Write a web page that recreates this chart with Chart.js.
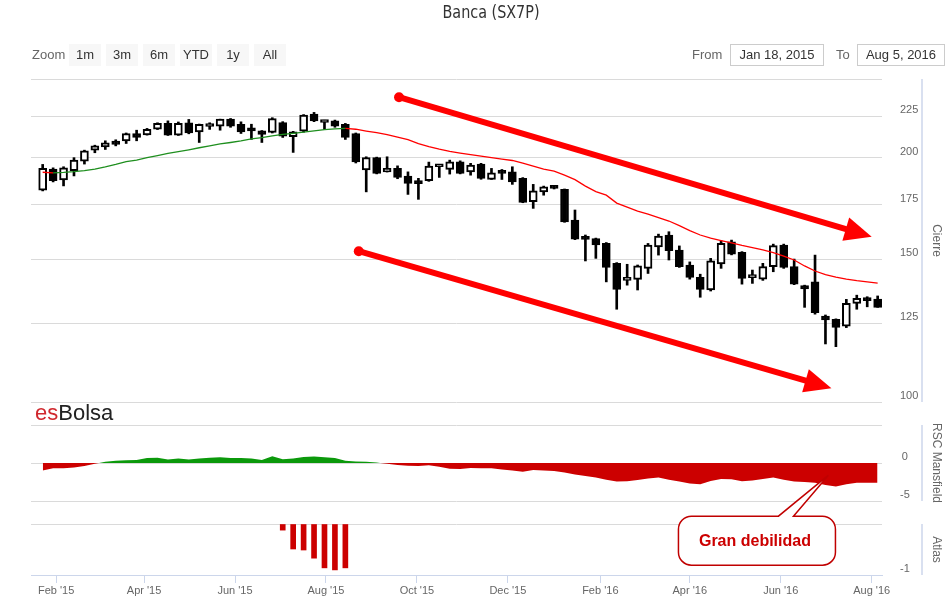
<!DOCTYPE html>
<html>
<head>
<meta charset="utf-8">
<title>Banca (SX7P)</title>
<script src="https://cdn.jsdelivr.net/npm/chart.js@4.4.1/dist/chart.umd.min.js"></script>
<style>
    body { margin: 0; background: #fff; font-family: Arial, "Liberation Sans", sans-serif; }
    #wrap { position: relative; width: 952px; height: 609px; overflow: hidden; }
    #chart-box { position: absolute; left: 0; top: 0; width: 952px; height: 609px; }
    .title { position: absolute; top: 2px; left: 491px; transform: translateX(-50%) scaleX(0.94); white-space: nowrap;
             font-family: "Liberation Sans Narrow", "Arial Narrow", "DejaVu Sans Condensed", Arial, sans-serif;
             font-size: 17px; color: #333; }
    .zoom-label, .range-label { position: absolute; top: 44px; height: 22px; line-height: 22px; font-size: 13px; color: #666; }
    .btn { position: absolute; top: 44px; width: 32px; height: 22px; line-height: 22px; background: #f7f7f7;
           color: #333; font-size: 13px; text-align: center; }
    .range-input { position: absolute; top: 44px; height: 22px; line-height: 20px; box-sizing: border-box;
                   border: 1px solid #ccc; font-size: 13px; color: #333; text-align: center; }
    .logo { position: absolute; left: 35px; top: 402px; font-size: 22px; line-height: 22px; color: #222; }
    .logo span { color: #d0282e; }
</style>
</head>
<body>
<div id="wrap">
    <div id="chart-box"><canvas id="bancaChart"></canvas></div>
    <div class="title">Banca (SX7P)</div>
    <div class="zoom-label" style="left:32px">Zoom</div>
    <div class="btn" style="left:69px">1m</div>
    <div class="btn" style="left:106px">3m</div>
    <div class="btn" style="left:143px">6m</div>
    <div class="btn" style="left:180px">YTD</div>
    <div class="btn" style="left:217px">1y</div>
    <div class="btn" style="left:254px">All</div>
    <div class="range-label" style="left:692px">From</div>
    <div class="range-input" style="left:730px;width:94px">Jan 18, 2015</div>
    <div class="range-label" style="left:836px">To</div>
    <div class="range-input" style="left:857px;width:88px">Aug 5, 2016</div>
    <div class="logo"><span>es</span>Bolsa</div>
</div>
<script>
// weekly candles, first one is the week of Jan 23 2015
const firstWeek = '2015-01-23';
const opens = [182.4, 193.6, 187.7, 192.7, 198.0, 204.3, 206.2, 209.6, 209.8, 214.2,
    213.4, 216.8, 220.4, 213.2, 220.8, 215.2, 218.5, 218.7, 223.1, 219.9,
    217.3, 215.8, 214.8, 221.0, 212.2, 215.6, 226.3, 221.0, 222.0, 219.9,
    214.2, 193.1, 200.0, 192.1, 194.0, 189.8, 186.2, 187.3, 194.9, 193.4,
    197.6, 192.1, 196.4, 188.0, 192.7, 192.1, 188.6, 176.5, 181.5, 184.6,
    182.8, 167.5, 159.5, 159.0, 156.8, 148.2, 141.2, 141.6, 146.1, 155.3,
    160.6, 153.9, 147.5, 142.4, 137.4, 147.9, 157.5, 152.9, 142.3, 141.7,
    146.8, 156.1, 146.8, 139.1, 140.6, 127.6, 126.4, 124.0, 132.3, 134.2, 133.9];
const highs = [196.2, 194.3, 194.9, 200.0, 204.3, 207.2, 209.8, 210.4, 214.5, 216.2,
    217.3, 220.8, 222.0, 221.3, 222.9, 220.0, 220.8, 223.1, 223.5, 221.4,
    219.9, 216.0, 224.0, 221.5, 215.5, 226.0, 227.4, 222.4, 222.5, 220.4,
    214.5, 200.5, 200.3, 200.5, 195.4, 192.1, 188.6, 197.5, 195.8, 198.6,
    198.2, 196.8, 196.8, 194.0, 193.4, 194.9, 189.0, 185.4, 184.5, 184.7,
    183.0, 172.4, 160.6, 159.2, 157.2, 148.5, 147.8, 147.5, 156.8, 161.0,
    162.1, 155.7, 148.8, 143.7, 150.3, 158.0, 158.3, 153.2, 145.4, 148.2,
    156.5, 156.5, 150.0, 139.3, 151.7, 128.0, 126.6, 133.8, 135.4, 134.8, 135.1];
const lows = [182.0, 186.7, 184.6, 189.9, 196.4, 202.8, 204.7, 206.8, 208.2, 209.8,
    213.2, 216.6, 213.0, 213.0, 214.0, 208.8, 216.7, 216.2, 218.0, 214.2,
    210.6, 208.8, 214.5, 211.8, 203.0, 215.0, 221.5, 216.7, 218.0, 210.6,
    197.0, 181.5, 191.0, 192.0, 188.4, 180.2, 177.7, 187.0, 189.1, 190.9,
    191.0, 190.3, 188.1, 188.0, 188.0, 185.4, 176.0, 173.2, 179.8, 183.0,
    166.5, 158.5, 149.2, 150.3, 140.6, 130.1, 139.3, 137.4, 144.0, 151.7,
    149.6, 146.5, 141.7, 134.6, 137.0, 146.1, 151.8, 139.7, 140.0, 141.2,
    144.7, 146.1, 139.5, 130.8, 128.3, 117.9, 117.0, 123.5, 130.1, 131.0, 130.8];
const closes = [194.0, 187.3, 194.3, 198.6, 203.9, 206.8, 208.6, 207.6, 214.2, 211.8,
    216.7, 220.4, 213.2, 220.4, 214.6, 219.8, 219.0, 223.1, 218.7, 215.2,
    215.8, 213.6, 223.5, 212.6, 215.2, 225.6, 222.0, 222.0, 218.7, 211.8,
    197.6, 200.1, 191.3, 194.0, 189.1, 185.9, 185.8, 195.3, 195.8, 197.6,
    191.3, 195.8, 188.6, 191.6, 191.3, 186.7, 176.2, 182.0, 184.1, 183.3,
    166.7, 158.7, 158.6, 156.1, 146.5, 137.6, 141.6, 147.1, 156.1, 160.1,
    153.6, 146.8, 142.4, 137.6, 149.3, 156.8, 152.1, 142.0, 142.6, 146.8,
    155.8, 146.5, 139.7, 137.8, 128.8, 126.2, 123.6, 132.3, 134.2, 133.3, 130.8];
// 30 week moving average (green while rising, red while falling)
const ma30 = [191.9, 191.6, 191.8, 192.2, 192.8, 193.6, 194.8, 196.2, 197.8, 198.6,
    200.0, 201.2, 202.4, 203.4, 204.5, 205.7, 206.8, 208.0, 208.8, 209.7,
    210.9, 211.7, 212.8, 213.6, 214.3, 215.0, 215.8, 216.5, 217.0, 217.3,
    216.8, 215.7, 214.7, 213.5, 212.0, 210.5, 208.1, 206.4, 204.9, 203.6,
    202.6, 201.7, 200.9, 200.0, 199.2, 198.4, 196.9, 195.3, 193.6, 192.5,
    190.3, 187.9, 184.5, 181.6, 179.8, 175.8, 173.8, 171.9, 170.4, 168.7,
    167.1, 164.9, 162.6, 160.6, 159.2, 158.1, 157.0, 155.9, 155.0, 154.0,
    152.8, 151.3, 149.6, 147.1, 145.0, 143.5, 142.5, 141.7, 141.1, 140.6, 140.1];
const rscValues = [-1.0, -0.7, -0.7, -0.6, -0.4, -0.1, 0.15, 0.3, 0.35, 0.4,
    0.65, 0.7, 0.45, 0.6, 0.45, 0.6, 0.7, 0.75, 0.65, 0.65,
    0.6, 0.4, 0.9, 0.5, 0.6, 0.8, 0.85, 0.75, 0.65, 0.3,
    0.2, 0.15, 0.05, -0.1, -0.25, -0.35, -0.4, -0.3, -0.5, -0.75,
    -0.8, -0.65, -0.7, -0.7, -0.85, -1.0, -1.15, -0.92, -1.0, -1.05,
    -1.25, -1.5, -1.7, -1.9, -2.2, -2.45, -2.4, -2.25, -2.05, -1.9,
    -2.2, -2.45, -2.7, -2.8, -2.37, -2.1, -2.15, -2.4, -2.3, -2.1,
    -1.9, -2.2, -2.45, -2.5, -2.6, -2.9, -3.1, -2.8, -2.6, -2.6, -2.6];
// Atlas only has values for a few weeks, starting at week index 23
const atlasFrom = 23;
const atlasValues = [-0.12, -0.49, -0.51, -0.67, -0.86, -0.9, -0.86];

const tickDates = ['2015-02-01', '2015-04-01', '2015-06-01', '2015-08-01', '2015-10-01',
    '2015-12-01', '2016-02-01', '2016-04-01', '2016-06-01', '2016-08-01'];
const tickLabels = ["Feb '15", "Apr '15", "Jun '15", "Aug '15", "Oct '15",
    "Dec '15", "Feb '16", "Apr '16", "Jun '16", "Aug '16"];
const priceTicks = [100, 125, 150, 175, 200, 225, 250];
const rscTicks = [-5, 0, 5];
const atlasTicks = [-1, 0];

// hand drawn trend channel and the note
const arrows = [
    { from: ['2015-09-19', 237.4], to: ['2016-08-01', 159.8] },
    { from: ['2015-08-23', 153.4], to: ['2016-07-05', 104.0] }
];
const note = { text: 'Gran debilidad', at: ['2016-07-03', -1.6] };

const DAY = 86400000;
const t = s => Date.parse(s + 'T00:00:00Z');

document.addEventListener('DOMContentLoaded', () => {
    const weeks = closes.map((_, i) => t(firstWeek) + i * 7 * DAY);
    const gridColor = '#dadada';
    const axisColor = '#ccd6eb';

    const extrasPlugin = {
        id: 'extras',
        afterDatasetsDraw(chart) {
            const ctx = chart.ctx;
            const xs = chart.scales.x;
            const ys = chart.scales.yPrice;
            ctx.save();
            ctx.strokeStyle = '#ff0000';
            ctx.fillStyle = '#ff0000';
            arrows.forEach(a => {
                const x0 = xs.getPixelForValue(t(a.from[0]));
                const y0 = ys.getPixelForValue(a.from[1]);
                const x1 = xs.getPixelForValue(t(a.to[0]));
                const y1 = ys.getPixelForValue(a.to[1]);
                const len = Math.hypot(x1 - x0, y1 - y0);
                const ux = (x1 - x0) / len, uy = (y1 - y0) / len;
                const head = 27, half = 12;
                const bx = x1 - ux * head, by = y1 - uy * head;
                ctx.lineWidth = 6;
                ctx.beginPath();
                ctx.moveTo(x0, y0);
                ctx.lineTo(bx + ux * 2, by + uy * 2);
                ctx.stroke();
                ctx.beginPath();
                ctx.arc(x0, y0, 5, 0, Math.PI * 2);
                ctx.fill();
                ctx.beginPath();
                ctx.moveTo(x1, y1);
                ctx.lineTo(bx - uy * half, by + ux * half);
                ctx.lineTo(bx + uy * half, by - ux * half);
                ctx.closePath();
                ctx.fill();
            });
            ctx.restore();
        },
        afterDraw(chart) {
            const ctx = chart.ctx;
            ctx.save();
            // axis lines on the right of each panel
            ctx.strokeStyle = axisColor;
            ctx.lineWidth = 1.5;
            ['yPrice', 'yRSC', 'yAtlas'].forEach(id => {
                const s = chart.scales[id];
                ctx.beginPath();
                ctx.moveTo(s.left + 40, s.top);
                ctx.lineTo(s.left + 40, s.bottom);
                ctx.stroke();
            });
            // callout
            const tx = chart.scales.x.getPixelForValue(t(note.at[0]));
            const ty = chart.scales.yRSC.getPixelForValue(note.at[1]);
            const left = tx - 150, top = ty + 41, w = 157, h = 49, r = 13;
            ctx.beginPath();
            ctx.moveTo(left + r, top);
            ctx.lineTo(tx - 50, top);
            ctx.lineTo(tx, ty);
            ctx.lineTo(tx - 35, top);
            ctx.lineTo(left + w - r, top);
            ctx.arcTo(left + w, top, left + w, top + r, r);
            ctx.lineTo(left + w, top + h - r);
            ctx.arcTo(left + w, top + h, left + w - r, top + h, r);
            ctx.lineTo(left + r, top + h);
            ctx.arcTo(left, top + h, left, top + h - r, r);
            ctx.lineTo(left, top + r);
            ctx.arcTo(left, top, left + r, top, r);
            ctx.closePath();
            ctx.fillStyle = '#fff';
            ctx.fill();
            ctx.strokeStyle = '#c00000';
            ctx.lineWidth = 1.5;
            ctx.stroke();
            ctx.fillStyle = '#cc0000';
            ctx.font = 'bold 16px Arial, "Liberation Sans", sans-serif';
            ctx.textAlign = 'center';
            ctx.textBaseline = 'middle';
            ctx.fillText(note.text, left + w / 2 - 2, top + h / 2 + 1);
            ctx.restore();
        }
    };

    const sideAxis = (weight, min, max, ticks, hidden, title) => ({
        type: 'linear',
        position: 'right',
        stack: 'panels',
        stackWeight: weight,
        min: min,
        max: max,
        grid: { color: gridColor, drawTicks: false },
        border: { display: false },
        ticks: {
            crossAlign: 'center', padding: 18, labelOffset: -6, autoSkip: false,
            color: '#666', font: { size: 11 },
            callback: v => (v === hidden ? '' : String(v))
        },
        title: { display: true, text: title, color: '#666', font: { size: 12 }, padding: { top: 8, bottom: 0 } },
        afterBuildTicks: s => { s.ticks = ticks.map(v => ({ value: v })); },
        afterFit: s => { s.width = 70; }
    });
    const gapAxis = weight => ({
        type: 'linear', position: 'right', stack: 'panels', stackWeight: weight,
        display: false, min: 0, max: 1
    });

    const priceAxis = sideAxis(323, 100, 250, priceTicks, 250, 'Cierre');
    priceAxis.type = 'logarithmic';

    const ctx = document.getElementById('bancaChart').getContext('2d');
    new Chart(ctx, {
        type: 'bar',
        data: {
            datasets: [
                {
                    type: 'line',
                    data: weeks.map((w, i) => ({ x: w, y: ma30[i] })),
                    yAxisID: 'yPrice',
                    pointRadius: 0,
                    borderWidth: 1.3,
                    segment: {
                        borderColor: c => (c.p1.parsed.y >= c.p0.parsed.y ? '#1f8f1f' : '#ff0000')
                    },
                    order: 1
                },
                {
                    data: weeks.map((w, i) => ({ x: w, y: [opens[i], closes[i]] })),
                    yAxisID: 'yPrice',
                    backgroundColor: closes.map((c, i) => (c > opens[i] ? '#ffffff' : '#000000')),
                    borderColor: '#000',
                    borderWidth: 2,
                    borderSkipped: false,
                    barThickness: 8,
                    minBarLength: 3,
                    grouped: false,
                    order: 2
                },
                {
                    data: weeks.map((w, i) => ({ x: w, y: [lows[i], highs[i]] })),
                    yAxisID: 'yPrice',
                    backgroundColor: '#000',
                    borderWidth: 0,
                    barThickness: 2,
                    grouped: false,
                    order: 3
                },
                {
                    type: 'line',
                    data: weeks.map((w, i) => ({ x: w, y: rscValues[i] })),
                    yAxisID: 'yRSC',
                    pointRadius: 0,
                    borderWidth: 0,
                    borderColor: 'rgba(0,0,0,0)',
                    fill: { target: { value: 0 }, above: '#0b990b', below: '#cc0000' },
                    order: 4
                },
                {
                    data: atlasValues.map((v, k) => ({ x: weeks[atlasFrom + k], y: v })),
                    yAxisID: 'yAtlas',
                    backgroundColor: '#cc0000',
                    barThickness: 5,
                    grouped: false,
                    order: 5
                }
            ]
        },
        plugins: [extrasPlugin],
        options: {
            responsive: true,
            maintainAspectRatio: false,
            animation: false,
            events: [],
            layout: { padding: { left: 31, top: 79, right: 0, bottom: 0 } },
            plugins: { legend: { display: false }, tooltip: { enabled: false } },
            scales: {
                x: {
                    type: 'linear',
                    position: 'bottom',
                    min: Date.UTC(2015, 0, 15, 4),
                    max: Date.UTC(2016, 7, 7, 22),
                    offset: false,
                    grid: { drawOnChartArea: false, drawTicks: true, tickLength: 8, color: axisColor, offset: false },
                    border: { display: true, color: axisColor },
                    ticks: {
                        autoSkip: false, maxRotation: 0, padding: 1, color: '#666', font: { size: 11 },
                        callback: (v, i) => tickLabels[i]
                    },
                    afterBuildTicks: s => { s.ticks = tickDates.map(d => ({ value: t(d) })); },
                    afterFit: s => { s.height = 34; }
                },
                yPrice: priceAxis,
                yGap1: gapAxis(23),
                yRSC: sideAxis(76, -5, 5, rscTicks, 5, 'RSC Mansfield'),
                yGap2: gapAxis(23),
                yAtlas: sideAxis(51, -1, 0, atlasTicks, 0, 'Atlas')
            }
        }
    });
});
</script>
</body>
</html>
